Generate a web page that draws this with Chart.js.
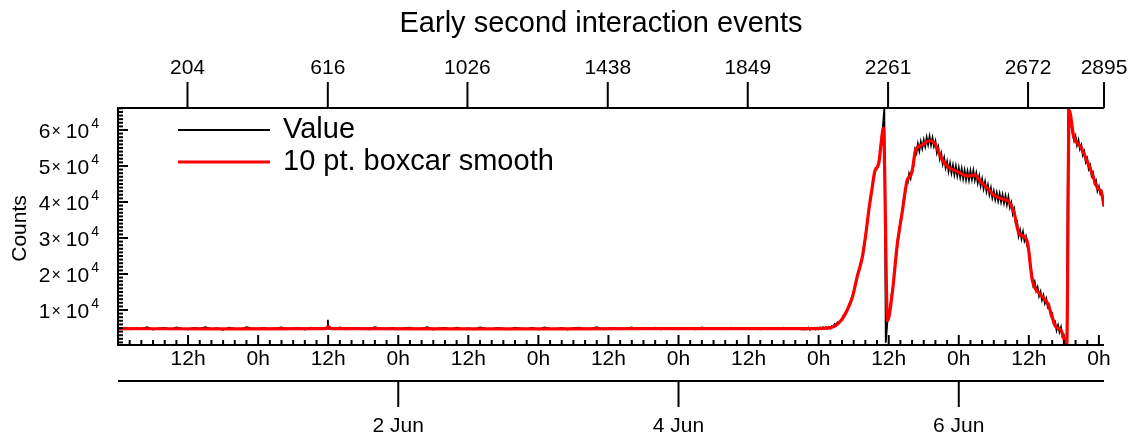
<!DOCTYPE html>
<html>
<head>
<meta charset="utf-8">
<script src="https://cdn.jsdelivr.net/npm/chart.js@4/dist/chart.umd.min.js"></script>
<style>
  html, body { margin: 0; padding: 0; background: #fff; }
  #wrap { width: 1138px; height: 440px; }
</style>
</head>
<body>
<div id="wrap"><canvas id="chart" width="1138" height="440"></canvas></div>
<script>
// values, time in hours from 31 May 0h
const sampleMinutes = 3.5; // one sample every 3.5 min (top axis = sample number)

// quiet part, one reading per hour (0h .. 117h)
const flatCounts = [
  4700, 5100, 4600, 4950, 4800, 5200, 4550, 4900, 5050, 4650, 5150, 4750, 4600, 5000, 4850, 5250, 4700, 4950, 4500, 5100, 4800, 4650, 5200, 4900,
  4750, 5050, 4600, 4900, 5150, 4700, 4850, 5000, 4550, 5100, 4800, 4950, 4800, 4700, 5150, 4600, 4900, 5050, 4750, 4650, 5200, 4850, 4700, 5000,
  4600, 4950, 5100, 4700, 4850, 5200, 4550, 4900, 5000, 4650, 5100, 4750, 4900, 4600, 5150, 4800, 4700, 5050, 4850, 4600, 5100, 4900, 4750, 5000,
  4650, 5150, 4800, 4700, 5000, 4550, 4950, 5100, 4750, 4850, 5200, 4600, 4900, 5050, 4700, 4800, 5150, 4650, 4950, 4750, 5100, 4600, 4900, 5000,
  4700, 5050, 4850, 4600, 5150, 4750, 4900, 5000, 4650, 5100, 4800, 4700, 5050, 4900, 4600, 5000, 4850, 4750, 5100, 4700, 4950, 4650
];
// the little spike at 12h on 1 Jun
const spikeHours = [35.85, 35.95];
const spikeCounts = [4800, 7300];

// active part, one reading every 15 min from 118h
const activeStart = 118;
const activeStep = 0.25;
const activeCounts = [
  4600, 5100, 4500, 5000, 4700, 5050, 4600, 5100, 4700, 5150, 4750, 5200, 4800, 5200, 4800, 5300,
  4900, 5500, 5300, 6100, 5900, 6600, 6500, 7200, 7400, 8500, 8800, 9800, 10200, 11700, 12300, 13800,
  14800, 17100, 18300, 20500, 21400, 23600, 24500, 27900, 29900, 33600, 36200, 39800, 41800, 45300, 47000, 49400,
  49300, 51000, 53000, 57500, 60800, 66100, 900, 6200, 9600, 10700, 14300, 16200, 21600, 24000, 29400, 30500,
  34700, 35800, 40000, 41000, 45400, 45200, 47800, 46600, 49300, 50000, 54500, 53500, 56100, 54200, 56700, 54900,
  57200, 55400, 57900, 55900, 58200, 55800, 57800, 55500, 56900, 53700, 55200, 52000, 53500, 50600, 52300, 49500,
  51200, 48500, 50700, 48100, 50200, 47600, 49900, 47300, 49500, 46900, 49200, 46500, 48800, 46200, 48500, 46100,
  48600, 46300, 48700, 46100, 48000, 45300, 47200, 44500, 46400, 43700, 45600, 42900, 44700, 42100, 43900, 41200,
  43000, 40700, 42600, 40300, 42300, 40000, 42000, 39700, 41700, 39300, 41400, 38500, 39800, 36700, 38000, 34000,
  34500, 30600, 32200, 29800, 31700, 29200, 30400, 27600, 26800, 21800, 20400, 16900, 17900, 15400, 16400, 13900,
  15100, 12800, 14100, 11900, 13100, 10800, 11400, 8500, 9000, 6200, 6700, 4400, 5800, 3900, 5200, 2600,
  3000, 700, 280, 66100, 63600, 61200, 58900, 57000, 58300, 55800, 57200, 54700, 55800, 53000, 54000, 51100,
  52100, 49200, 50200, 47300, 48100, 45200, 46000, 43100, 44300, 42200, 42800, 39200
];

// 10 pt. boxcar smooth, read at its bends
const smoothHours = [
  0, 20, 35.5, 36, 36.6, 60, 90, 118.6, 122.1, 123.8, 124.9, 125.8, 126.6, 127.5, 128.1, 128.6,
  129.2, 129.6, 130.3, 130.7, 131.1, 131.8, 132.6, 133.5, 134.3, 135.1, 136.0, 136.6, 137.7, 138.9, 139.8, 140.9,
  142.1, 143.8, 145.5, 146.6, 147.8, 149.2, 150.0, 151.8, 152.6, 153.5, 154.3, 155.2, 155.8, 156.6, 157.8, 159.2,
  160.6, 161.5, 162.5, 162.9, 163.7, 164.9, 166.6, 167.8, 168.4, 168.9
];
const smoothCounts = [
  4800, 4780, 4800, 5300, 4800, 4750, 4800, 4800, 5100, 7000, 10000, 13700, 19200, 24800, 31300, 37800,
  44300, 48400, 50700, 56300, 60500, 7000, 14600, 28600, 37000, 45600, 48400, 54400, 55800, 57000, 56500, 52600,
  49800, 48400, 47200, 47500, 45600, 43300, 41900, 40700, 40100, 36900, 31300, 30400, 28500, 18300, 14600, 11900,
  5400, 4400, 300, 65500, 58100, 55300, 48900, 43800, 42900, 38700
];

// axes
const hourTicks = [12, 24, 36, 48, 60, 72, 84, 96, 108, 120, 132, 144, 156, 168];
const hourLabels = ['12h', '0h', '12h', '0h', '12h', '0h', '12h', '0h', '12h', '0h', '12h', '0h', '12h', '0h'];
const dateTicks = [48, 96, 144];
const dateLabels = ['2 Jun', '4 Jun', '6 Jun'];
const sampleTicks = [204, 616, 1026, 1438, 1849, 2261, 2672, 2895];
const yTicks = [1, 2, 3, 4, 5, 6]; // x 10^4

const valuePoints = flatCounts.map((c, i) => ({ x: i, y: c }))
  .concat(spikeHours.map((h, i) => ({ x: h, y: spikeCounts[i] })))
  .concat(activeCounts.map((c, i) => ({ x: activeStart + i * activeStep, y: c })))
  .sort((a, b) => a.x - b.x);
const smoothPoints = smoothHours.map((h, i) => ({ x: h, y: smoothCounts[i] }));

const FONT = "'Liberation Sans', Arial, Helvetica, sans-serif";

const axesPlugin = {
  id: 'axes',
  afterDatasetsDraw(chart) {
    const { ctx, chartArea: a, scales: { x, y } } = chart;
    const line = (x1, y1, x2, y2) => { ctx.beginPath(); ctx.moveTo(x1, y1); ctx.lineTo(x2, y2); ctx.stroke(); };
    ctx.save();
    ctx.strokeStyle = '#000';
    ctx.fillStyle = '#000';
    ctx.lineWidth = 2;

    // frame (no right side)
    line(a.left, a.top - 1, a.left, a.bottom + 1);
    line(a.left - 1, a.bottom, a.right, a.bottom);
    line(a.left - 1, a.top, a.right, a.top);

    // bottom hour axis, ticks point in
    for (let h = 2; h < 169; h += 2) {
      const px = x.getPixelForValue(h);
      line(px, a.bottom, px, a.bottom - (h % 12 === 0 ? 10 : 5));
    }
    ctx.font = '21px ' + FONT;
    ctx.textAlign = 'center';
    ctx.textBaseline = 'middle';
    hourTicks.forEach((h, i) => ctx.fillText(hourLabels[i], x.getPixelForValue(h), a.bottom + 14));

    // date axis
    const dy = a.bottom + 36;
    line(a.left, dy, a.right, dy);
    dateTicks.forEach((h, i) => {
      const px = x.getPixelForValue(h);
      line(px, dy, px, dy + 26);
      ctx.fillText(dateLabels[i], px, dy + 45);
    });

    // top sample-number axis
    sampleTicks.forEach(s => {
      const px = x.getPixelForValue(s * sampleMinutes / 60);
      line(px, a.top, px, a.top - 26);
      ctx.fillText(String(s), px, a.top - 40);
    });

    // y axis, ticks point in
    for (let v = 1000; v <= 66000; v += 1000) {
      const py = y.getPixelForValue(v);
      line(a.left, py, a.left + (v % 10000 === 0 ? 10 : 5), py);
    }
    ctx.textAlign = 'left';
    yTicks.forEach(t => {
      const py = y.getPixelForValue(t * 10000);
      const parts = [
        { s: String(t), f: '21px ', dy: 2, gap: 1 },
        { s: '\u00d7', f: '16px ', dy: 2, gap: 5 },
        { s: '10', f: '21px ', dy: 2, gap: 2 },
        { s: '4', f: '14px ', dy: -6, gap: 0 }
      ];
      let w = 0;
      parts.forEach(p => { ctx.font = p.f + FONT; p.w = ctx.measureText(p.s).width; w += p.w + p.gap; });
      let px = 99 - w;
      parts.forEach(p => { ctx.font = p.f + FONT; ctx.fillText(p.s, px, py + p.dy); px += p.w + p.gap; });
    });

    // y title
    ctx.save();
    ctx.translate(20, (a.top + a.bottom) / 2 + 2);
    ctx.rotate(-Math.PI / 2);
    ctx.textAlign = 'center';
    ctx.font = '21px ' + FONT;
    ctx.fillText('Counts', 0, 0);
    ctx.restore();

    // title
    ctx.textAlign = 'center';
    ctx.font = '29px ' + FONT;
    ctx.fillText('Early second interaction events', 601, 24);

    // legend
    ctx.textAlign = 'left';
    const items = [['Value', '#000', 2], ['10 pt. boxcar smooth', '#ff0000', 3]];
    items.forEach((it, i) => {
      const ly = 130 + i * 32;
      ctx.strokeStyle = it[1];
      ctx.lineWidth = it[2];
      line(178, ly, 270, ly);
      ctx.fillText(it[0], 283, ly);
    });
    ctx.restore();
  }
};

new Chart(document.getElementById('chart'), {
  type: 'line',
  data: {
    datasets: [
      { label: '10 pt. boxcar smooth', data: smoothPoints, borderColor: '#ff0000', borderWidth: 3.2, pointRadius: 0,
        cubicInterpolationMode: 'monotone', order: 0 },
      { label: 'Value', data: valuePoints, borderColor: '#000000', borderWidth: 1.8, pointRadius: 0, order: 1 }
    ]
  },
  options: {
    responsive: false,
    animation: false,
    events: [],
    layout: { padding: { left: 118, right: 34, top: 108, bottom: 95 } },
    scales: {
      x: { type: 'linear', min: 0, max: 168.875, display: false },
      y: { type: 'linear', min: 280, max: 66100, display: false }
    },
    plugins: { legend: { display: false }, tooltip: { enabled: false }, title: { display: false } }
  },
  plugins: [axesPlugin]
});
</script>
</body>
</html>
